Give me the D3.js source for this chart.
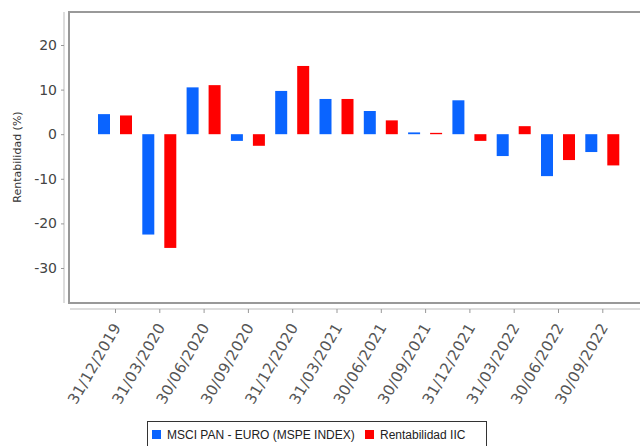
<!DOCTYPE html>
<html>
<head>
<meta charset="utf-8">
<script src="https://cdn.jsdelivr.net/npm/d3@7"></script>
<style>
  body { margin: 0; background: #fff; }
  svg { display: block; }
</style>
</head>
<body>
<div class="chart"></div>
<script>
// categories and series values (rentabilidad %)
const fechas = ['31/12/2019', '31/03/2020', '30/06/2020', '30/09/2020', '31/12/2020', '31/03/2021',
  '30/06/2021', '30/09/2021', '31/12/2021', '31/03/2022', '30/06/2022', '30/09/2022'];
const indice = [4.5, -22.5, 10.5, -1.5, 9.7, 7.9, 5.2, 0.4, 7.6, -4.9, -9.4, -4.0];
const iic = [4.2, -25.5, 11.0, -2.6, 15.3, 7.9, 3.1, 0.3, -1.5, 1.8, -5.8, -7.0];
const yTicks = [-30, -20, -10, 0, 10, 20];
const series = ['MSCI PAN - EURO (MSPE INDEX)', 'Rentabilidad IIC'];
const colores = ['#0a64ff', '#ff0000'];

const width = 640, height = 446;

const data = fechas.map((f, i) => ({ fecha: f, vals: [indice[i], iic[i]] }));

const svg = d3.select('.chart')
  .append('svg')
  .attr('width', width)
  .attr('height', height);

// plot area
const plot = { left: 69, top: 12, right: 660, bottom: 303 };

const y = d3.scaleLinear()
  .domain([-37.85, 27.4])
  .range([plot.bottom, plot.top]);

const x = d3.scaleBand()
  .domain(fechas)
  .range([93.35, 93.35 + 44.3 * fechas.length]);

const x1 = d3.scaleBand()
  .domain([0, 1])
  .range([-17.5, 16.5])
  .paddingInner(0.4545);

// frame
svg.append('rect')
  .attr('x', plot.left)
  .attr('y', plot.top)
  .attr('width', plot.right - plot.left)
  .attr('height', plot.bottom - plot.top)
  .attr('fill', 'none')
  .attr('stroke', '#999')
  .attr('stroke-width', 2);

// bars
svg.append('g')
  .selectAll('g')
  .data(data)
  .enter()
  .append('g')
  .attr('transform', (d) => 'translate(' + (x(d.fecha) + x.bandwidth() / 2) + ',0)')
  .selectAll('rect')
  .data((d) => d.vals.map((v, k) => ({ k: k, v: v })))
  .enter()
  .append('rect')
  .attr('x', (d) => x1(d.k))
  .attr('width', x1.bandwidth())
  .attr('y', (d) => y(Math.max(0, d.v)))
  .attr('height', (d) => Math.max(1, Math.abs(y(d.v) - y(0))))
  .attr('fill', (d) => colores[d.k]);

// y axis
const yAxis = d3.axisLeft(y)
  .tickValues(yTicks)
  .tickSize(3)
  .tickPadding(4)
  .tickFormat((d) => String(d));

const gy = svg.append('g')
  .attr('transform', 'translate(64,0)')
  .call(yAxis);
gy.select('.domain').attr('stroke', '#bbb').attr('d', 'M0,' + plot.top + 'V' + plot.bottom);
gy.selectAll('.tick line').attr('stroke', '#999');
gy.selectAll('.tick text')
  .attr('fill', '#444')
  .style('font-family', 'DejaVu Sans')
  .style('font-size', '14px');

// x axis
const xAxis = d3.axisBottom(x)
  .tickSize(4)
  .tickFormat('');

const gx = svg.append('g')
  .attr('transform', 'translate(0,309)')
  .call(xAxis);
gx.select('.domain').attr('stroke', '#bbb').attr('d', 'M70,0H' + width);
gx.selectAll('.tick line').attr('stroke', '#999');

gx.selectAll('.tick')
  .append('text')
  .attr('transform', 'translate(6,18) rotate(-60)')
  .attr('text-anchor', 'end')
  .attr('fill', '#555')
  .style('font-family', 'DejaVu Sans')
  .style('font-size', '15px')
  .style('letter-spacing', '0.4px')
  .text((d) => d);

// y title
svg.append('text')
  .attr('transform', 'translate(21,157) rotate(-90)')
  .attr('text-anchor', 'middle')
  .attr('fill', '#333')
  .style('font-family', 'DejaVu Sans')
  .style('font-size', '11px')
  .text('Rentabilidad (%)');

// legend
const legend = svg.append('g');
legend.append('rect')
  .attr('x', 147.5)
  .attr('y', 421.5)
  .attr('width', 339)
  .attr('height', 30)
  .attr('fill', '#fff')
  .attr('stroke', '#333');

const items = legend.selectAll('g.item')
  .data(series)
  .enter()
  .append('g')
  .attr('class', 'item')
  .attr('transform', (d, i) => 'translate(' + (i === 0 ? 152 : 365) + ',430)');

items.append('rect')
  .attr('width', 9)
  .attr('height', 9)
  .attr('fill', (d, i) => colores[i]);

items.append('text')
  .attr('x', 15)
  .attr('y', 9)
  .attr('fill', '#222')
  .style('font-family', 'Liberation Sans')
  .style('font-size', '12px')
  .text((d) => d);
</script>
</body>
</html>
